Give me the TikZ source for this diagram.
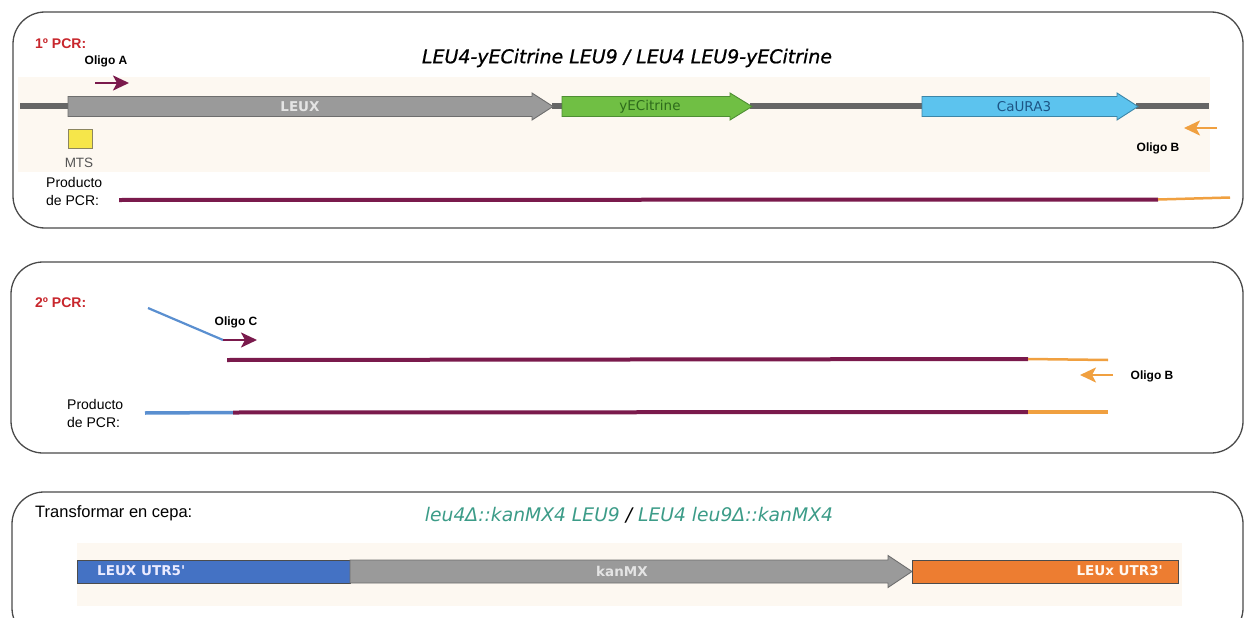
\documentclass[tikz,border=0pt]{standalone}
\usepackage{fontspec}
\setmainfont{Liberation Sans}
\newfontfamily\dvs{DejaVu Sans}
\newfontfamily\titlefnt{DejaVu Sans}[ItalicFeatures={FakeBold=0.8}]
\usetikzlibrary{arrows.meta}
\definecolor{pcrred}{HTML}{C8262C}
\definecolor{oligop}{HTML}{7A1A4C}
\definecolor{oligoo}{HTML}{F0A040}
\definecolor{oligobl}{HTML}{5A8FD0}
\definecolor{bandbeige}{HTML}{FDF8F1}
\definecolor{bbgray}{HTML}{666666}
\definecolor{leuxfill}{HTML}{9A9A9A}
\definecolor{leuxdraw}{HTML}{6E6E6E}
\definecolor{leuxtext}{HTML}{E4E4E4}
\definecolor{citfill}{HTML}{70BF44}
\definecolor{citdraw}{HTML}{4E8E33}
\definecolor{cittext}{HTML}{2E6B1C}
\definecolor{urafill}{HTML}{5CC3EE}
\definecolor{uradraw}{HTML}{3D86A8}
\definecolor{uratext}{HTML}{1D5585}
\definecolor{gtitle}{HTML}{3C9C88}
\definecolor{utrblue}{HTML}{4472C4}
\definecolor{utrorange}{HTML}{ED7D31}
\definecolor{framegray}{HTML}{4A4A4A}
\definecolor{mtsfill}{HTML}{F6E64A}
\definecolor{mtsdraw}{HTML}{8C8660}
\definecolor{mtstext}{HTML}{555555}
\newcommand\genearr[8]{%
  \draw[fill=#7, draw=#8, line width=0.9pt, line join=miter]
    (#1,#4-#5) -- (#2,#4-#5) -- (#2,#4-#6) -- (#3,#4) -- (#2,#4+#6) -- (#2,#4+#5) -- (#1,#4+#5) -- cycle;}
\tikzset{
  panel/.style={draw=framegray, line width=1.3pt, rounded corners=32pt},
  band/.style={fill=bandbeige, draw=none},
  backbone/.style={draw=bbgray, line width=6.5pt},
  oarrow/.style={line width=2.4pt, -{Stealth[length=16pt,width=15pt,inset=4pt]}},
  oligolbl/.style={font=\bfseries\fontsize{12}{14}\selectfont, inner sep=0pt},
  pcrlbl/.style={font=\bfseries\fontsize{14}{16}\selectfont, text=pcrred, inner sep=0pt, anchor=west},
  prodlbl/.style={font=\fontsize{14}{18}\selectfont, inner sep=0pt, anchor=west, align=left},
  genetxt/.style={font=\dvs\fontsize{13.5}{16}\selectfont, inner sep=0pt},
  genetxtb/.style={font=\dvs\bfseries\fontsize{13.5}{16}\selectfont, inner sep=0pt},
  prodp/.style={draw=oligop, line width=4pt},
  prodo/.style={draw=oligoo, line width=2.5pt},
  prodb/.style={draw=oligobl, line width=3.5pt},
}
\begin{document}
\begin{tikzpicture}[x=1pt, y=-1pt]
\useasboundingbox (0,0) rectangle (1245,618);
\fill[white] (0,0) rectangle (1245,618);

% ===== Panel 1 =====
\draw[panel] (13,12) rectangle (1243,228);
\fill[band] (18,77) rectangle (1210,172);
\node[pcrlbl] (pcr1) at (35,44) {1º PCR:};
\node (title1) at (627,58) {\resizebox{410pt}{!}{\titlefnt\itshape LEU4-yECitrine LEU9 / LEU4 LEU9-yECitrine}};
\node[oligolbl] (olA) at (106,61) {Oligo A};
\coordinate (oA1) at (95,83);
\coordinate (oA2) at (129,83);
\draw[oarrow, oligop] (oA1) -- (oA2);

\coordinate (bb0) at (20,106);
\coordinate (bb1) at (70,106);
\coordinate (bb2) at (552,106);
\coordinate (bb3) at (563,106);
\coordinate (bb4) at (750,106);
\coordinate (bb5) at (923,106);
\coordinate (bb6) at (1136,106);
\coordinate (bb7) at (1209,106);
\draw[backbone] (bb0) -- (bb1);
\draw[backbone] (bb2) -- (bb3);
\draw[backbone] (bb4) -- (bb5);
\draw[backbone] (bb6) -- (bb7);
\genearr{68}{532}{553}{106.5}{10}{13.5}{leuxfill}{leuxdraw}
\genearr{562}{730}{752}{106.5}{10}{13.5}{citfill}{citdraw}
\genearr{922}{1117}{1138}{106.5}{10}{13.5}{urafill}{uradraw}
\node[genetxtb, text=leuxtext] (gLEUX) at (300,107) {LEUX};
\node[genetxt, text=cittext] (gCit) at (650,107) {yECitrine};
\node[genetxt, text=uratext] (gUra) at (1024,107) {CaURA3};

\node[draw=mtsdraw, fill=mtsfill, line width=0.6pt, minimum width=24pt, minimum height=19pt, inner sep=0pt] (mts) at (80,138.5) {};
\node[font=\fontsize{13.5}{16}\selectfont, text=mtstext, inner sep=0pt] (mtsl) at (79,163) {MTS};

\coordinate (oB1) at (1217,128);
\coordinate (oB2) at (1184,128);
\draw[oarrow, oligoo] (oB1) -- (oB2);
\node[oligolbl] (olB1) at (1158,148) {Oligo B};

\node[prodlbl] (prod1) at (46,191) {Producto\\de PCR:};
\coordinate (p1a) at (119,200);
\coordinate (p1b) at (1158,199.5);
\coordinate (p1c) at (1230,197.5);
\draw[prodp] (p1a) -- (p1b);
\draw[prodo] (p1b) -- (p1c);

% ===== Panel 2 =====
\draw[panel] (11,262) rectangle (1243,453);
\node[pcrlbl] (pcr2) at (35,303) {2º PCR:};
\coordinate (oC0) at (148,308);
\coordinate (oC1) at (223,340);
\coordinate (oC2) at (257,340);
\draw[draw=oligobl, line width=2.2pt] (oC0) -- (oC1);
\draw[oarrow, oligop] (oC1) -- (oC2);
\node[oligolbl] (olC) at (236,322) {Oligo C};

\coordinate (t2a) at (227,360);
\coordinate (t2b) at (1028,359);
\coordinate (t2c) at (1108,360);
\draw[prodp] (t2a) -- (t2b);
\draw[prodo] (t2b) -- (t2c);

\coordinate (oB3) at (1113,375);
\coordinate (oB4) at (1080,375);
\draw[oarrow, oligoo] (oB3) -- (oB4);
\node[oligolbl] (olB2) at (1152,376) {Oligo B};

\node[prodlbl] (prod2) at (67,413) {Producto\\de PCR:};
\coordinate (p2a) at (145,413);
\coordinate (p2b) at (233,412.5);
\coordinate (p2c) at (1028,412);
\coordinate (p2d) at (1108,412);
\draw[prodb] (p2a) -- (p2b);
\draw[prodp] (p2b) -- (p2c);
\draw[draw=oligoo, line width=3.5pt] (p2c) -- (p2d);

% ===== Panel 3 =====
\draw[panel] (12,492) rectangle (1243,640);
\fill[band] (77,543) rectangle (1182,606);
\node[font=\fontsize{16.5}{19}\selectfont, inner sep=0pt, anchor=west] (transf) at (35,513) {Transformar en cepa:};
\node (title3) at (629,515) {\resizebox{408pt}{!}{\dvs\itshape\color{gtitle}leu4Δ::kanMX4 LEU9 {\color{black}/} LEU4 leu9Δ::kanMX4}};
\node[draw=black!70, fill=utrblue, line width=0.8pt, minimum width=273pt, minimum height=23pt, inner sep=0pt, anchor=west] (utr5) at (77,571.5) {};
\genearr{350}{888}{912}{571.5}{11.5}{16}{leuxfill}{leuxdraw}
\node[draw=black!70, fill=utrorange, line width=0.8pt, minimum width=266pt, minimum height=23pt, inner sep=0pt, anchor=west] (utr3) at (912,571.5) {};
\node[genetxtb, text=white!92!blue, anchor=west] (utr5l) at (97,571) {LEUX UTR5'};
\node[genetxtb, text=leuxtext] (kan) at (622,571) {kanMX};
\node[genetxtb, text=white!95!orange, anchor=east] (utr3l) at (1163,571) {LEUx UTR3'};
\end{tikzpicture}
\end{document}
